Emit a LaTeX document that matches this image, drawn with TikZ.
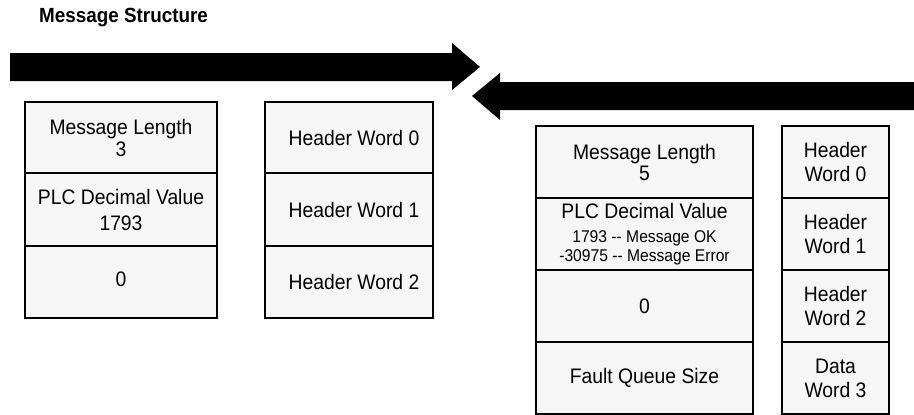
\documentclass[tikz,border=0pt]{standalone}
\usepackage{fontspec}
\setmainfont{Liberation Sans}[FakeStretch=0.92]
\definecolor{boxfill}{RGB}{246,246,246}
\begin{document}
\begin{tikzpicture}[x=1pt,y=-1pt,
  cell/.style={draw=black, line width=2pt, fill=boxfill, inner sep=0pt, align=center,
    font=\fontsize{21}{21}\selectfont},
  bigarrow/.style={fill=black}]
\useasboundingbox (0,0) rectangle (914,415);
\node[anchor=base west, font=\fontsize{20.5}{21}\selectfont\bfseries, inner sep=0pt] (title) at (39,23) {Message Structure};
% arrows
\fill[bigarrow] (10,53) -- (452,53) -- (452,43) -- (480,67) -- (452,90) -- (452,81) -- (10,81) -- cycle;
\fill[bigarrow] (914,82) -- (500,82) -- (500,73) -- (472,96) -- (500,120) -- (500,110) -- (914,110) -- cycle;
% left message
\node[cell, minimum width=192pt, minimum height=71pt] (a1) at (121,137.5) {\raisebox{1pt}{Message Length}\\3};
\node[cell, minimum width=192pt, minimum height=73pt] (a2) at (121,209.5) {PLC Decimal Value\\[5pt]1793};
\node[cell, minimum width=192pt, minimum height=72pt] (a3) at (121,282) {\raisebox{5pt}{0}};
\node[cell, minimum width=168pt, minimum height=71pt] (b1) at (349,137.5) {\hspace*{10pt}Header Word 0};
\node[cell, minimum width=168pt, minimum height=73pt] (b2) at (349,209.5) {\hspace*{10pt}Header Word 1};
\node[cell, minimum width=168pt, minimum height=72pt] (b3) at (349,282) {\hspace*{10pt}Header Word 2};
% right message
\node[cell, minimum width=217pt, minimum height=72pt] (c1) at (644.5,162) {Message Length\\5};
\node[cell, minimum width=217pt, minimum height=72pt] (c2) at (644.5,234) {PLC Decimal Value\\[3pt]{\fontsize{17}{17}\selectfont 1793 -{}- Message OK}\\[-2pt]{\fontsize{17}{17}\selectfont -30975 -{}- Message Error}};
\node[cell, minimum width=217pt, minimum height=72pt] (c3) at (644.5,306) {0};
\node[cell, minimum width=217pt, minimum height=72pt] (c4) at (644.5,378) {Fault Queue Size};
\node[cell, minimum width=107pt, minimum height=72pt] (d1) at (835.5,162) {Header\\[3pt]Word 0};
\node[cell, minimum width=107pt, minimum height=72pt] (d2) at (835.5,234) {Header\\[3pt]Word 1};
\node[cell, minimum width=107pt, minimum height=72pt] (d3) at (835.5,306) {Header\\[3pt]Word 2};
\node[cell, minimum width=107pt, minimum height=72pt] (d4) at (835.5,378) {Data\\[3pt]Word 3};
\end{tikzpicture}
\end{document}
